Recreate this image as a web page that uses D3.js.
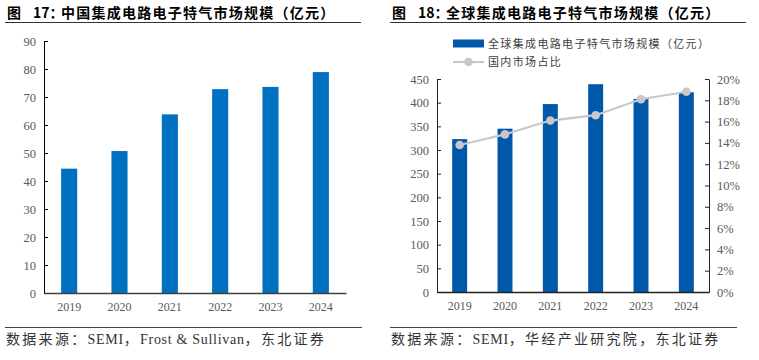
<!DOCTYPE html>
<html><head><meta charset="utf-8">
<script src="https://cdn.jsdelivr.net/npm/d3@7/dist/d3.min.js"></script>
<style>
html,body{margin:0;padding:0;background:#fff;}
svg{display:block;}
text{font-family:"Liberation Serif","Noto Sans CJK SC",serif;}
</style></head>
<body>
<svg id="c" width="759" height="360"></svg>
<script>
const years = ["2019","2020","2021","2022","2023","2024"];
const chinaMarket = [44.4, 50.7, 63.8, 72.8, 73.6, 78.9];
const leftTicks = [0,10,20,30,40,50,60,70,80,90];
const globalMarket = [323, 345, 397, 439, 408, 422];
const domesticShare = [0.138, 0.148, 0.161, 0.166, 0.181, 0.188];
const rightTicks = [0,50,100,150,200,250,300,350,400,450];
const shareTicks = [0,0.02,0.04,0.06,0.08,0.10,0.12,0.14,0.16,0.18,0.20];
const titleLeft = ["图", "17：", "中国集成电路电子特气市场规模（亿元）"];
const titleRight = ["图", "18：", "全球集成电路电子特气市场规模（亿元）"];
const sourceLeft = "数据来源：SEMI，Frost & Sullivan，东北证券";
const sourceRight = "数据来源：SEMI，华经产业研究院，东北证券";
const legendBar = "全球集成电路电子特气市场规模（亿元）";
const legendLine = "国内市场占比";

const svg = d3.select("#c");
svg.append("rect").attr("width",759).attr("height",360).attr("fill","#fff");

// Titles
function title(x, x2, parts){
  const t = svg.append("text").attr("y",18).attr("font-size",14).attr("font-weight","bold")
    .attr("fill","#000").style("font-family","'Noto Sans CJK SC',sans-serif");
  t.append("tspan").attr("x",x).text(parts[0]);
  t.append("tspan").attr("x",x+26).text(parts[1]);
  t.append("tspan").attr("x",x+54).attr("letter-spacing","1.25px").text(parts[2]);
  svg.append("line").attr("x1",x-2).attr("x2",x2).attr("y1",22.5).attr("y2",22.5).attr("stroke","#333").attr("stroke-width",1.2);
}
title(7, 361, titleLeft);
title(392, 746, titleRight);

// Footers (CJK runs and Latin runs styled separately)
function footer(x, x2, s){
  svg.append("line").attr("x1",x).attr("x2",x2).attr("y1",327.5).attr("y2",327.5).attr("stroke","#444").attr("stroke-width",1);
  const t = svg.append("text").attr("x",x+1).attr("y",344).attr("font-size",14).attr("fill","#333");
  const runs = s.match(/[\u3000-\u9fff\uff00-\uffef]+|[^\u3000-\u9fff\uff00-\uffef]+/g);
  runs.forEach(r=>{
    const cjk = /[\u3000-\u9fff\uff00-\uffef]/.test(r);
    t.append("tspan").attr("letter-spacing", cjk ? "2.3px" : "0.7px").text(r);
  });
}
footer(5, 362, sourceLeft);
footer(390, 737, sourceRight);

function styleAxis(g, col){
  g.select(".domain").attr("stroke",col);
  g.selectAll(".tick line").attr("stroke",col);
  g.selectAll(".tick text").attr("fill","#595959").attr("font-size",12.5)
    .style("font-family","'Liberation Serif',serif");
}

// Left chart
const xL = d3.scaleBand().domain(years).range([44,346]).paddingInner(0.68).paddingOuter(0.34);
const yL = d3.scaleLinear().domain([0,90]).range([293,41]);
svg.append("g").selectAll("rect").data(chinaMarket).join("rect")
  .attr("x",(d,i)=>xL(years[i])).attr("width",xL.bandwidth())
  .attr("y",d=>yL(d)).attr("height",d=>yL(0)-yL(d)).attr("fill","#0070C0");
const gyL = svg.append("g").attr("transform","translate(44,0)")
  .call(d3.axisLeft(yL).tickValues(leftTicks).tickSizeInner(-4).tickSizeOuter(0).tickPadding(8));
styleAxis(gyL,"#000");
const gxL = svg.append("g").attr("transform","translate(0,293)")
  .call(d3.axisBottom(xL).tickSize(0).tickPadding(9));
styleAxis(gxL,"#404040");
gxL.select(".domain").attr("stroke-width",1.5);
gxL.selectAll(".tick text").attr("font-size",12);

// Right chart
const xR = d3.scaleBand().domain(years).range([437,709]).paddingInner(0.67).paddingOuter(0.335);
const yR = d3.scaleLinear().domain([0,450]).range([292,79]);
const yP = d3.scaleLinear().domain([0,0.20]).range([292,79]);
svg.append("g").selectAll("rect").data(globalMarket).join("rect")
  .attr("x",(d,i)=>xR(years[i])).attr("width",xR.bandwidth())
  .attr("y",d=>yR(d)).attr("height",d=>yR(0)-yR(d)).attr("fill","#0058AA");
const line = d3.line().x((d,i)=>xR(years[i])+xR.bandwidth()/2).y(d=>yP(d));
svg.append("path").datum(domesticShare).attr("d",line).attr("fill","none")
  .attr("stroke","#C8C8C8").attr("stroke-width",2.2);
svg.append("g").selectAll("circle").data(domesticShare).join("circle")
  .attr("cx",(d,i)=>xR(years[i])+xR.bandwidth()/2).attr("cy",d=>yP(d)).attr("r",4.3)
  .attr("fill","#C8C8C8");
const gyR = svg.append("g").attr("transform","translate(437,0)")
  .call(d3.axisLeft(yR).tickValues(rightTicks).tickSizeInner(-4).tickSizeOuter(0).tickPadding(8));
styleAxis(gyR,"#222");
const gyP = svg.append("g").attr("transform","translate(709,0)")
  .call(d3.axisRight(yP).tickValues(shareTicks).tickSizeInner(-4).tickSizeOuter(0).tickPadding(8)
    .tickFormat(d=>Math.round(d*100)+"%"));
styleAxis(gyP,"#222");
const gxR = svg.append("g").attr("transform","translate(0,292)")
  .call(d3.axisBottom(xR).tickSize(0).tickPadding(9));
styleAxis(gxR,"#222");
gxR.select(".domain").attr("stroke-width",1.5);
gxR.selectAll(".tick text").attr("font-size",12);

// Legend
const lg = svg.append("g");
lg.append("rect").attr("x",453).attr("y",39.5).attr("width",31).attr("height",8).attr("fill","#0058AA");
lg.append("text").attr("x",488).attr("y",47.5).attr("font-size",11).attr("letter-spacing","1.35px")
  .attr("fill","#404040").text(legendBar);
lg.append("line").attr("x1",453).attr("x2",484).attr("y1",62).attr("y2",62).attr("stroke","#C8C8C8").attr("stroke-width",2.2);
lg.append("circle").attr("cx",468.5).attr("cy",62).attr("r",4.3).attr("fill","#C8C8C8");
lg.append("text").attr("x",488).attr("y",66).attr("font-size",11).attr("letter-spacing","1.35px")
  .attr("fill","#404040").text(legendLine);
</script>
</body></html>
